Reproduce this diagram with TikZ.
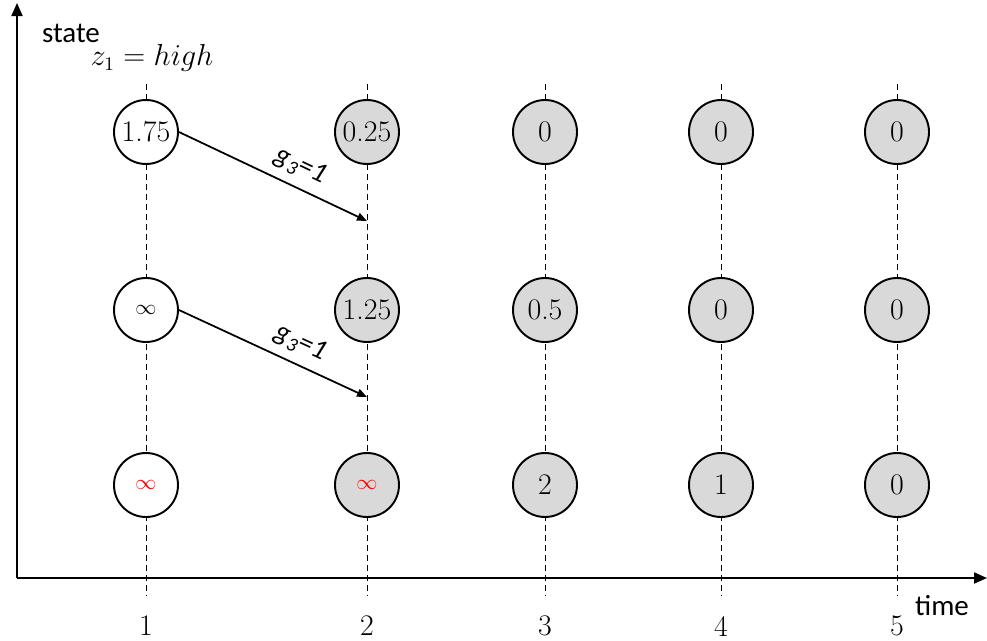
\documentclass[tikz,border=0pt]{standalone}
\usepackage{fontspec}
\setsansfont{Carlito}
\usepackage{xcolor}
\usetikzlibrary{arrows.meta, positioning, calc}

\definecolor{donegray}{RGB}{217,217,217}
\newcommand{\nobound}{{\fontsize{12.5}{14}\selectfont$\infty$}}

\begin{document}
\begin{tikzpicture}[x=0.2mm, y=-0.2mm,
    every node/.style={font=\fontsize{17}{19}\selectfont},
    val/.style={circle, draw, line width=1.1pt, fill=white, minimum size=12.8mm, inner sep=0pt},
    done/.style={fill=donegray},
    guide/.style={dashed, line width=0.5pt, dash pattern=on 3.4pt off 2.3pt},
    axis/.style={line width=1.1pt, -{Triangle[length=2.6mm, width=2.2mm]}},
    jump/.style={line width=1pt, -{Triangle[length=2mm, width=1.6mm]}},
    lbl/.style={font=\fontsize{16}{18}\selectfont\sffamily\itshape, inner sep=1pt}]
    \useasboundingbox (0,0) rectangle (987,640);

    % time steps
    \foreach \t/\x in {1/146, 2/367, 3/545, 4/721, 5/897} {
        \draw[guide] (\x,84) -- (\x,595);
        \node[inner sep=0pt] (t\t) at (\x,626) {\t};
    }

    % axes
    \draw[axis] (17,578) -- (987,578);
    \draw[axis] (17,578) -- (17,3);
    \node[font=\fontsize{16.5}{18}\selectfont\sffamily] (time) at (942,606) {time};
    \node[font=\fontsize{16.5}{18}\selectfont\sffamily] (state) at (71,33) {state};
    \node[font=\fontsize{16}{18}\selectfont] (z) at (152,58) {$z_1 = high$};

    % cost to go per state
    \node[val] (h1) at (146,132) {1.75};
    \node[val, done] (h2) at (367,132) {0.25};
    \node[val, done] (h3) at (545,132) {0};
    \node[val, done] (h4) at (721,132) {0};
    \node[val, done] (h5) at (897,132) {0};

    \node[val] (m1) at (146,310) {\nobound};
    \node[val, done] (m2) at (367,310) {1.25};
    \node[val, done] (m3) at (545,310) {0.5};
    \node[val, done] (m4) at (721,310) {0};
    \node[val, done] (m5) at (897,310) {0};

    \node[val] (l1) at (146,485) {\textcolor{red}{\nobound}};
    \node[val, done] (l2) at (367,485) {\textcolor{red}{\nobound}};
    \node[val, done] (l3) at (545,485) {2};
    \node[val, done] (l4) at (721,485) {1};
    \node[val, done] (l5) at (897,485) {0};

    % transitions
    \coordinate (e1) at (367,221);
    \coordinate (e2) at (367,397);
    \draw[jump] (h1.east) -- (e1) node[lbl, pos=0.6, above=4pt, sloped] {g\textsubscript{3}=1};
    \draw[jump] (m1.east) -- (e2) node[lbl, pos=0.6, above=4pt, sloped] {g\textsubscript{3}=1};
\end{tikzpicture}
\end{document}
